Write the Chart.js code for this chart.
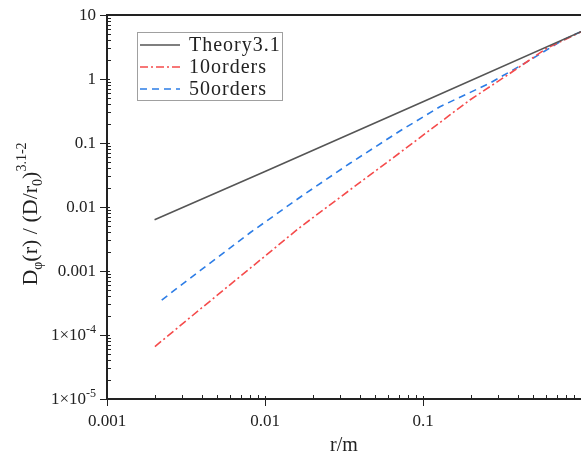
<!DOCTYPE html>
<html>
<head>
<meta charset="utf-8">
<script src="https://cdn.jsdelivr.net/npm/chart.js@4.4.1/dist/chart.umd.min.js"></script>
<style>
  html, body { margin: 0; padding: 0; background: #fff; }
  canvas { display: block; }
</style>
</head>
<body>
<canvas id="grafico" width="581" height="454"></canvas>
<script>
const rotulosSeries = ["Theory3.1", "10orders", "50orders"];

const rTeoria = [0.002, 0.01, 0.1, 1];
const dTeoria = [0.0063, 0.036, 0.44, 5.5];

const r10 = [0.00201, 0.00388, 0.00804, 0.01667, 0.0345, 0.0714, 0.148, 0.198, 0.356, 0.607, 1];
const d10 = [6.6e-5, 2.52e-4, 1.1e-3, 4.82e-3, 0.0185, 0.0705, 0.274, 0.47, 1.23, 3.02, 5.45];

const r50 = [0.00222, 0.00388, 0.00804, 0.01667, 0.0345, 0.0714, 0.128, 0.266, 0.455, 0.769, 1];
const d50 = [3.52e-4, 1.01e-3, 3.96e-3, 0.0142, 0.0482, 0.154, 0.369, 0.866, 1.85, 4.06, 5.5];

const ticksX = [0.001, 0.01, 0.1];
const rotulosX = ["0.001", "0.01", "0.1"];
const ticksY = [10, 1, 0.1, 0.01, 0.001, 1e-4, 1e-5];
const rotulosY = ["10", "1", "0.1", "0.01", "0.001", "1×10^-4", "1×10^-5"];

const SERIF = '"Liberation Serif", "DejaVu Serif", serif';

function juntar(xs, ys) {
  return xs.map((x, i) => ({ x: x, y: ys[i] }));
}

function linha(ctx, x1, y1, x2, y2) {
  ctx.beginPath();
  ctx.moveTo(x1, y1);
  ctx.lineTo(x2, y2);
  ctx.stroke();
}

function textoPartes(ctx, partes, x, y) {
  // desenha pedaços de texto com sub/sobrescrito, a partir de x
  let px = x;
  partes.forEach(p => {
    ctx.font = p.f + 'px ' + SERIF;
    ctx.fillText(p.t, px, y + p.dy);
    px += ctx.measureText(p.t).width;
  });
  return px - x;
}

function larguraPartes(ctx, partes) {
  let w = 0;
  partes.forEach(p => {
    ctx.font = p.f + 'px ' + SERIF;
    w += ctx.measureText(p.t).width;
  });
  return w;
}

const eixosExtras = {
  id: 'eixosExtras',
  afterDraw(chart) {
    const ctx = chart.ctx;
    const area = chart.chartArea;
    const sx = chart.scales.x;
    const sy = chart.scales.y;

    ctx.save();
    ctx.strokeStyle = '#222';
    ctx.fillStyle = '#222';

    ctx.lineWidth = 2;
    linha(ctx, area.left - 1, area.top, area.right, area.top);

    ctx.lineWidth = 1;
    // marcas do eixo y
    for (let e = -5; e <= 1; e++) {
      const base = Math.pow(10, e);
      const py = Math.round(sy.getPixelForValue(base)) + 0.5;
      linha(ctx, area.left - 7, py, area.left + 3, py);
      if (e < 1) {
        for (let k = 2; k <= 9; k++) {
          const p = Math.round(sy.getPixelForValue(k * base)) + 0.5;
          linha(ctx, area.left, p, area.left + 4, p);
        }
      }
    }
    // marcas do eixo x
    for (let e = -3; e <= 0; e++) {
      const base = Math.pow(10, e);
      const px = Math.round(sx.getPixelForValue(base)) + 0.5;
      linha(ctx, px, area.bottom - 3, px, area.bottom + 7);
      if (e < 0) {
        for (let k = 2; k <= 9; k++) {
          const p = Math.round(sx.getPixelForValue(k * base)) + 0.5;
          linha(ctx, p, area.bottom, p, area.bottom - 4);
        }
      }
    }

    // rótulos do eixo y
    ctx.textBaseline = 'middle';
    ctx.textAlign = 'left';
    ticksY.forEach((v, i) => {
      const py = sy.getPixelForValue(v);
      const [base, exp] = rotulosY[i].split('^');
      const partes = [{ t: base, f: 17, dy: 0 }];
      if (exp) partes.push({ t: exp, f: 12, dy: -6 });
      const w = larguraPartes(ctx, partes);
      textoPartes(ctx, partes, area.left - 11 - w, py + 1);
    });

    // rótulos do eixo x
    ctx.textBaseline = 'alphabetic';
    ctx.textAlign = 'center';
    ctx.font = '17px ' + SERIF;
    ticksX.forEach((v, i) => {
      ctx.fillText(rotulosX[i], sx.getPixelForValue(v), 426);
    });

    // títulos
    ctx.font = '20px ' + SERIF;
    ctx.fillText('r/m', (area.left + area.right) / 2, 451);

    ctx.save();
    ctx.translate(37, 214);
    ctx.rotate(-Math.PI / 2);
    ctx.textAlign = 'left';
    const partesY = [
      { t: 'D', f: 22, dy: 0 },
      { t: 'φ', f: 14, dy: 5 },
      { t: '(r) / (D/r', f: 22, dy: 0 },
      { t: '0', f: 14, dy: 5 },
      { t: ')', f: 22, dy: 0 },
      { t: '3.1-2', f: 14, dy: -11 }
    ];
    const wy = larguraPartes(ctx, partesY);
    textoPartes(ctx, partesY, -wy / 2, 0);
    ctx.restore();

    // legenda
    ctx.strokeStyle = '#a0a0a0';
    ctx.lineWidth = 1;
    ctx.strokeRect(137.5, 32.5, 145, 68);
    ctx.textAlign = 'left';
    ctx.textBaseline = 'middle';
    ctx.font = '20px ' + SERIF;
    if ('letterSpacing' in ctx) ctx.letterSpacing = '1px';
    chart.data.datasets.forEach((ds, i) => {
      const y = 45 + i * 22;
      ctx.strokeStyle = ds.borderColor;
      ctx.lineWidth = ds.borderWidth;
      ctx.setLineDash(ds.borderDash || []);
      linha(ctx, 140, y, 180, y);
      ctx.setLineDash([]);
      ctx.fillStyle = '#222';
      ctx.fillText(ds.label, 189, y + 1);
    });
    ctx.restore();
  }
};

const ctx = document.getElementById('grafico').getContext('2d');

new Chart(ctx, {
  type: 'line',
  data: {
    datasets: [
      {
        label: rotulosSeries[0],
        data: juntar(rTeoria, dTeoria),
        borderColor: 'rgb(85, 85, 85)',
        borderWidth: 1.6
      },
      {
        label: rotulosSeries[1],
        data: juntar(r10, d10),
        borderColor: 'rgb(245, 75, 75)',
        borderWidth: 1.6,
        borderDash: [8, 3, 2, 3]
      },
      {
        label: rotulosSeries[2],
        data: juntar(r50, d50),
        borderColor: 'rgb(45, 125, 230)',
        borderWidth: 1.6,
        borderDash: [7, 5]
      }
    ]
  },
  options: {
    responsive: false,
    animation: false,
    layout: { padding: { top: 15, right: 0, left: 0, bottom: 0 } },
    elements: { point: { radius: 0 }, line: { tension: 0 } },
    plugins: {
      legend: { display: false },
      tooltip: { enabled: false }
    },
    scales: {
      x: {
        type: 'logarithmic',
        min: 0.001,
        max: 1,
        grid: { display: false },
        border: { display: true, color: '#222', width: 2 },
        ticks: { display: false },
        afterFit: scale => { scale.height = 55; }
      },
      y: {
        type: 'logarithmic',
        min: 1e-5,
        max: 10,
        grid: { display: false },
        border: { display: true, color: '#222', width: 2 },
        ticks: { display: false },
        afterFit: scale => { scale.width = 107; }
      }
    }
  },
  plugins: [eixosExtras]
});
</script>
</body>
</html>
